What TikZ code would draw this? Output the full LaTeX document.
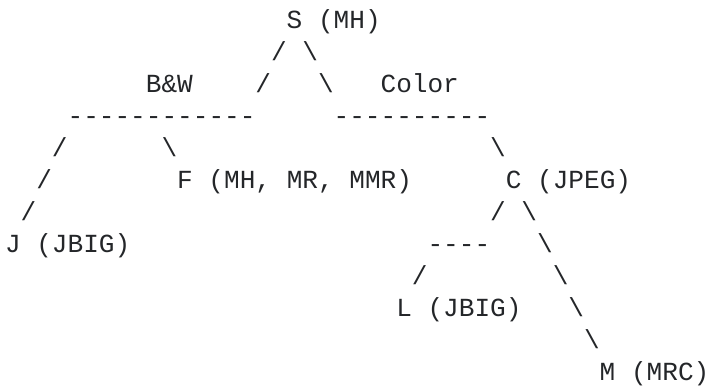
\documentclass[tikz,border=0pt]{standalone}
\usepackage{fontspec}
\setmonofont{Liberation Mono}
\usepackage{xcolor}
\usepackage{tikz}

\definecolor{inkgray}{RGB}{36,38,41}

\begin{document}
\begin{tikzpicture}[x=15.65pt, y=-32pt,
    txt/.style={anchor=base west,
        inner sep=0pt,
        outer sep=0pt,
        text=inkgray,
        font=\ttfamily\fontsize{26.1}{30}\selectfont}
]

    % page frame
    \useasboundingbox (-0.32,-0.875) rectangle (44.92,11.281);

    % root
    \node[txt] (root) at (18,0) {S (MH)};
    \node[txt] (rootl) at (17,1) {/};
    \node[txt] (rootr) at (19,1) {\textbackslash};

    % split labels
    \node[txt] (bw) at (9,2) {B\&W};
    \node[txt] (bwl) at (16,2) {/};
    \node[txt] (colr) at (20,2) {\textbackslash};
    \node[txt] (color) at (24,2) {Color};

    % bars
    \node[txt] (bwbar) at (4,3) {------------};
    \node[txt] (colorbar) at (21,3) {----------};

    % B&W branch
    \node[txt] (jl1) at (3,4) {/};
    \node[txt] (fr) at (10,4) {\textbackslash};
    \node[txt] (jl2) at (2,5) {/};
    \node[txt] (fax) at (11,5) {F (MH, MR, MMR)};
    \node[txt] (jl3) at (1,6) {/};
    \node[txt] (jbig) at (0,7) {J (JBIG)};

    % Color branch
    \node[txt] (cr) at (31,4) {\textbackslash};
    \node[txt] (jpeg) at (32,5) {C (JPEG)};
    \node[txt] (cl) at (31,6) {/};
    \node[txt] (mr1) at (33,6) {\textbackslash};
    \node[txt] (lbar) at (27,7) {----};
    \node[txt] (mr2) at (34,7) {\textbackslash};
    \node[txt] (ll) at (26,8) {/};
    \node[txt] (mr3) at (35,8) {\textbackslash};
    \node[txt] (lossless) at (25,9) {L (JBIG)};
    \node[txt] (mr4) at (36,9) {\textbackslash};
    \node[txt] (mr5) at (37,10) {\textbackslash};
    \node[txt] (mrc) at (38,11) {M (MRC)};

\end{tikzpicture}
\end{document}
